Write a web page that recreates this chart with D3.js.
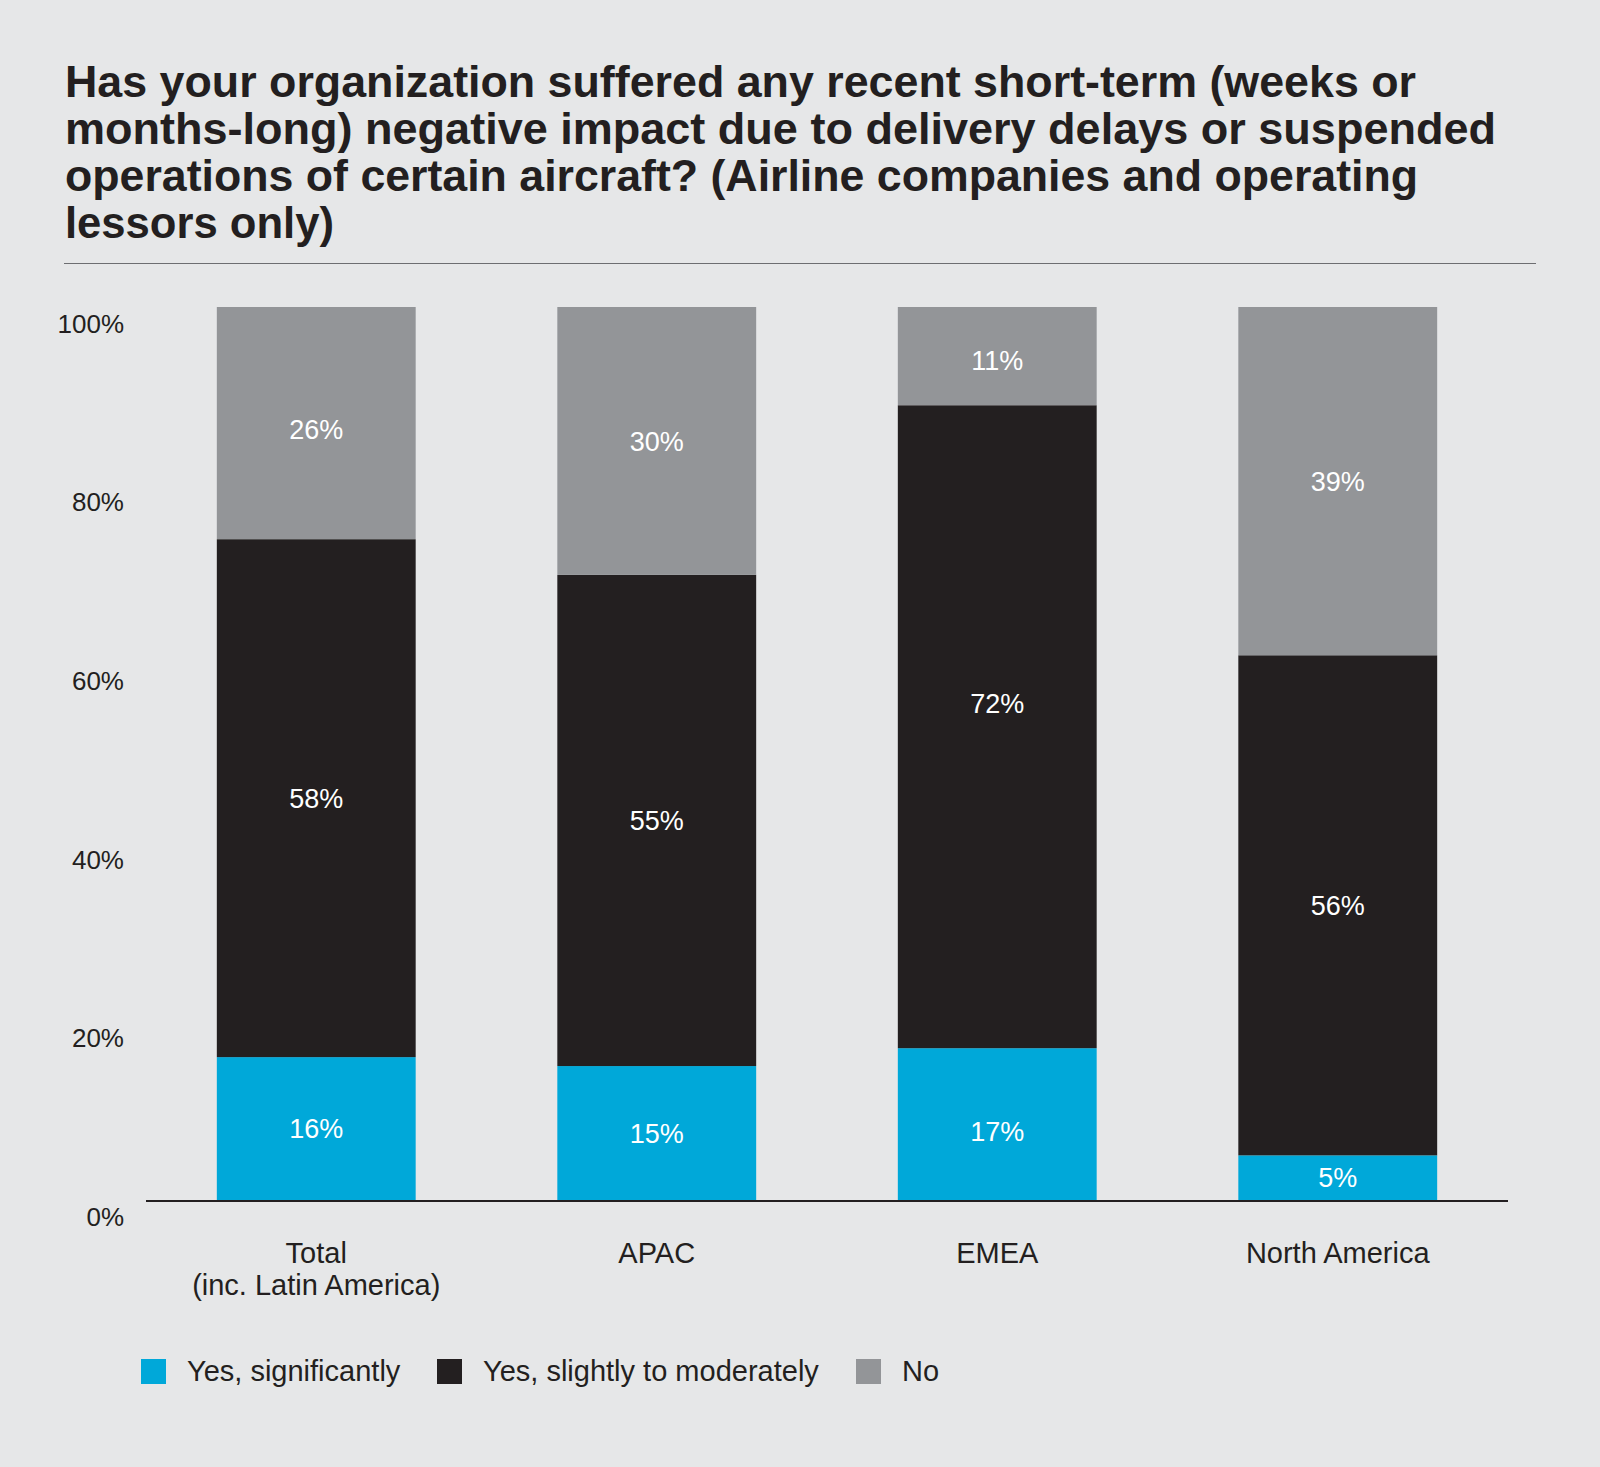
<!DOCTYPE html>
<html>
<head>
<meta charset="utf-8">
<script src="https://cdn.jsdelivr.net/npm/d3@7"></script>
<style>
  html, body { margin: 0; padding: 0; background: #e6e7e8; }
  svg { display: block; }
  text { font-family: "Liberation Sans", Arial, Helvetica, sans-serif; }
</style>
</head>
<body>
<svg id="chart" width="1600" height="1467"></svg>
<script>
// ---- Data ----
const titleLines = [
  "Has your organization suffered any recent short-term (weeks or",
  "months-long) negative impact due to delivery delays or suspended",
  "operations of certain aircraft? (Airline companies and operating",
  "lessors only)"
];
const categories = ["Total", "APAC", "EMEA", "North America"];
const categoryLabels = [["Total", "(inc. Latin America)"], ["APAC"], ["EMEA"], ["North America"]];
const seriesNames = ["Yes, significantly", "Yes, slightly to moderately", "No"];
const yesSignificantly = [16, 15, 17, 5];
const yesSlightly = [58, 55, 72, 56];
const noValues = [26, 30, 11, 39];
const yTicks = [0, 20, 40, 60, 80, 100];

// ---- Layout ----
const W = 1600, H = 1467;
const colors = ["#00a8d9", "#231f20", "#939598"];
const textDark = "#231f20";
// small vertical nudges of value labels (px), as placed in the original artwork
const labelNudge = { "EMEA|Yes, slightly to moderately": -23, "EMEA|No": 4, "EMEA|Yes, significantly": 7, "Total|No": 6 };

const svg = d3.select("#chart");
svg.append("rect").attr("width", W).attr("height", H).attr("fill", "#e6e7e8");

// Title
const titleWidths = [1351, 1431, 1353, 269];
svg.append("g").selectAll("text").data(titleLines).join("text")
  .attr("x", 65)
  .attr("y", (d, i) => 97 + i * 47)
  .attr("font-size", 44)
  .attr("font-weight", "bold")
  .attr("fill", textDark)
  .attr("textLength", (d, i) => titleWidths[i])
  .attr("lengthAdjust", "spacingAndGlyphs")
  .text(d => d);

svg.append("line")
  .attr("x1", 64).attr("x2", 1536).attr("y1", 263.5).attr("y2", 263.5)
  .attr("stroke", "#6d6e71").attr("stroke-width", 1.2);

// Scales
const x = d3.scaleBand().domain(categories).range([146, 1508])
  .paddingInner(0.416).paddingOuter(0.208);
const y = d3.scaleLinear().domain([0, 100]).range([1200, 307]);

// Stack
const rows = categories.map((c, i) => ({
  cat: c,
  [seriesNames[0]]: yesSignificantly[i],
  [seriesNames[1]]: yesSlightly[i],
  [seriesNames[2]]: noValues[i]
}));
const stacked = d3.stack().keys(seriesNames)(rows);

const layers = svg.append("g").selectAll("g").data(stacked).join("g")
  .attr("fill", (d, i) => colors[i]);
layers.selectAll("rect").data(d => d).join("rect")
  .attr("x", d => x(d.data.cat))
  .attr("width", x.bandwidth())
  .attr("y", d => y(d[1]))
  .attr("height", d => y(d[0]) - y(d[1]));

// Value labels
const labelsG = svg.append("g");
stacked.forEach(layer => {
  labelsG.selectAll(null).data(layer).join("text")
    .attr("x", d => x(d.data.cat) + x.bandwidth() / 2)
    .attr("y", d => (y(d[0]) + y(d[1])) / 2 + (labelNudge[d.data.cat + "|" + layer.key] || 0))
    .attr("dy", "0.36em")
    .attr("text-anchor", "middle")
    .attr("font-size", 27)
    .attr("fill", "#ffffff")
    .text(d => (d[1] - d[0]) + "%");
});

// Y axis (labels only, offset below tick)
const yAxis = d3.axisLeft(y).tickValues(yTicks).tickFormat(d => d + "%").tickSize(0).tickPadding(0);
const yG = svg.append("g").attr("transform", "translate(124,0)").call(yAxis);
yG.select(".domain").remove();
yG.selectAll("text")
  .attr("font-size", 26)
  .attr("fill", textDark)
  .attr("font-family", "'Liberation Sans', Arial, sans-serif")
  .attr("dy", "0.36em")
  .attr("y", 16);

// Baseline
svg.append("line")
  .attr("x1", 146).attr("x2", 1508).attr("y1", y(0) + 1).attr("y2", y(0) + 1)
  .attr("stroke", textDark).attr("stroke-width", 2);

// X labels
const xG = svg.append("g");
categories.forEach((c, i) => {
  const t = xG.append("text")
    .attr("x", x(c) + x.bandwidth() / 2)
    .attr("y", 1263)
    .attr("text-anchor", "middle")
    .attr("font-size", 29)
    .attr("fill", textDark);
  categoryLabels[i].forEach((line, j) => {
    t.append("tspan").attr("x", x(c) + x.bandwidth() / 2).attr("dy", j === 0 ? 0 : 32).text(line);
  });
});

// Legend
const legendX = [141, 437, 856];
const leg = svg.append("g").selectAll("g").data(seriesNames).join("g")
  .attr("transform", (d, i) => `translate(${legendX[i]},1359)`);
leg.append("rect").attr("width", 25).attr("height", 25).attr("fill", (d, i) => colors[i]);
leg.append("text").attr("x", 46).attr("y", 22)
  .attr("font-size", 29).attr("fill", textDark).text(d => d);
</script>
</body>
</html>
